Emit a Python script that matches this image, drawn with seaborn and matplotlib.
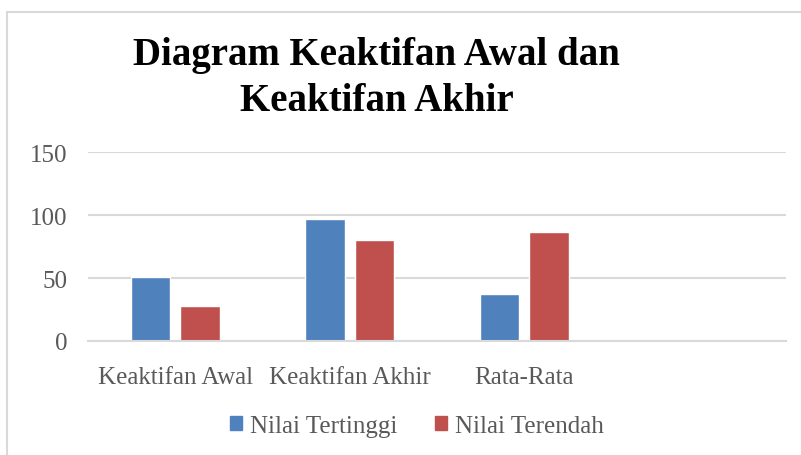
import pandas as pd
import matplotlib
matplotlib.use("Agg")
import matplotlib.pyplot as plt
import seaborn as sns
from matplotlib.patches import Rectangle

# Data
categories = ["Keaktifan Awal", "Keaktifan Akhir", "Rata-Rata"]
series = ["Nilai Tertinggi", "Nilai Terendah"]
nilai_tertinggi = [51, 97, 37]
nilai_terendah = [28, 80, 87]
colors = ["#4F81BD", "#C0504D"]

df = pd.DataFrame({
    "Kategori": categories * 2,
    "Seri": [series[0]] * 3 + [series[1]] * 3,
    "Nilai": nilai_tertinggi + nilai_terendah,
})

sns.set_style("white")
plt.rcParams["font.family"] = ["Liberation Serif", "DejaVu Serif"]

fig = plt.figure(figsize=(8.01, 4.56), dpi=100)
ax = fig.add_axes([88 / 801, 1 - 342 / 456, (786 - 88) / 801, (342 - 153.3) / 456])

sns.barplot(data=df, x="Kategori", y="Nilai", hue="Seri", order=categories,
            hue_order=series, palette=colors, width=0.567, gap=0.21,
            saturation=1, ax=ax, legend=True)

ax.set_xlim(-0.5, 3.5)
ax.set_ylim(0, 150)
ax.set_yticks([0, 50, 100, 150])
ax.set_xlabel("")
ax.set_ylabel("")
ax.grid(axis="y", color="#D9D9D9", linewidth=1.5)
ax.set_axisbelow(True)
for s in ["top", "right", "left"]:
    ax.spines[s].set_visible(False)
ax.spines["bottom"].set_color("#D9D9D9")
ax.spines["bottom"].set_linewidth(1.5)
ax.tick_params(axis="both", length=0, labelsize=18, labelcolor="#595959")
ax.tick_params(axis="y", pad=15)
ax.tick_params(axis="x", pad=18)

ax.legend_.remove()
handles = [Rectangle((0, 0), 1, 1, color=c) for c in colors]
fig.legend(handles, series, loc="center", bbox_to_anchor=(0.52, 0.064), ncol=2,
           frameon=False, fontsize=18, labelcolor="#595959",
           handlelength=0.5, handleheight=0.5, handletextpad=0.3, columnspacing=1.5)

fig.text(0.47, 0.828, "Diagram Keaktifan Awal dan\nKeaktifan Akhir", ha="center", va="center",
         fontsize=28, fontweight="bold", color="black", linespacing=1.3)

# chart border
fig.patches.append(Rectangle((6.5 / 801, -0.1), 1.2, 1 - 12.5 / 456 + 0.1, transform=fig.transFigure,
                             fill=False, edgecolor="#D9D9D9", linewidth=1.5))

fig.savefig("out.png", dpi=100)
